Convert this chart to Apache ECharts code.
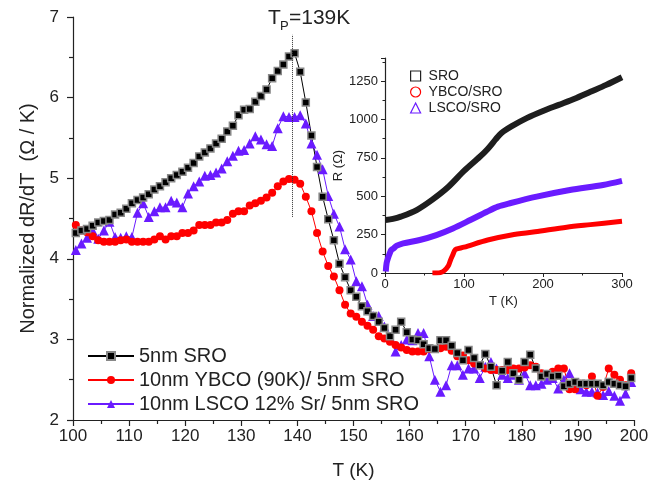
<!DOCTYPE html>
<html>
<head>
<meta charset="utf-8">
<script src="https://cdn.jsdelivr.net/npm/echarts@6/dist/echarts.min.js"></script>
<style>
  html, body { margin: 0; padding: 0; background: #fff; }
  #chart { width: 660px; height: 485px; }
</style>
</head>
<body>
<div id="chart"></div>
<script>
// main panel: temperatures (K)
const temps = [
  100.5, 101.5, 102.5, 103.5, 104.5, 105.5, 106.5, 107.5, 108.5, 109.5,
  110.5, 111.5, 112.5, 113.5, 114.5, 115.5, 116.5, 117.5, 118.5, 119.5,
  120.5, 121.5, 122.5, 123.5, 124.5, 125.5, 126.5, 127.5, 128.5, 129.5,
  130.5, 131.5, 132.5, 133.5, 134.5, 135.5, 136.5, 137.5, 138.5, 139.5,
  140.5, 141.5, 142.5, 143.5, 144.5, 145.5, 146.5, 147.5, 148.5, 149.5,
  150.5, 151.5, 152.5, 153.5, 154.5, 155.5, 156.5, 157.5, 158.5, 159.5,
  160.5, 161.5, 162.5, 163.5, 164.5, 165.5, 166.5, 167.5, 168.5, 169.5,
  170.5, 171.5, 172.5, 173.5, 174.5, 175.5, 176.5, 177.5, 178.5, 179.5,
  180.5, 181.5, 182.5, 183.5, 184.5, 185.5, 186.5, 187.5, 188.5, 189.5,
  190.5, 191.5, 192.5, 193.5, 194.5, 195.5, 196.5, 197.5, 198.5, 199.5
]

// normalized dR/dT
const sro = [
  4.32, 4.35, 4.37, 4.41, 4.45, 4.47, 4.48, 4.55, 4.57, 4.62,
  4.69, 4.73, 4.76, 4.80, 4.86, 4.90, 4.95, 5.00, 5.04, 5.08,
  5.13, 5.19, 5.27, 5.32, 5.37, 5.43, 5.49, 5.58, 5.65, 5.78,
  5.85, 5.86, 5.95, 6.02, 6.10, 6.24, 6.33, 6.41, 6.51, 6.55,
  6.32, 5.94, 5.53, 5.14, 4.77, 4.49, 4.23, 3.94, 3.77, 3.61,
  3.53, 3.41, 3.35, 3.29, 3.22, 3.14, 3.04, 3.12, 3.22, 3.09,
  3.00, 2.99, 2.94, 2.89, 2.88, 2.99, 2.99, 2.92, 2.83, 2.74,
  2.87, 2.77, 2.68, 2.82, 2.66, 2.43, 2.61, 2.72, 2.58, 2.50,
  2.72, 2.81, 2.64, 2.54, 2.57, 2.54, 2.55, 2.42, 2.45, 2.47,
  2.45, 2.45, 2.45, 2.45, 2.43, 2.47, 2.45, 2.43, 2.42, 2.52
]
const ybco = [
  4.42, 4.35, 4.33, 4.28, 4.23, 4.21, 4.21, 4.21, 4.23, 4.24,
  4.21, 4.21, 4.21, 4.21, 4.24, 4.28, 4.24, 4.28, 4.28, 4.32,
  4.32, 4.35, 4.42, 4.42, 4.42, 4.45, 4.45, 4.48, 4.56, 4.59,
  4.59, 4.66, 4.69, 4.72, 4.76, 4.82, 4.90, 4.96, 4.99, 4.98,
  4.93, 4.77, 4.59, 4.32, 4.09, 3.91, 3.78, 3.61, 3.43, 3.32,
  3.28, 3.22, 3.17, 3.12, 3.04, 3.01, 2.97, 2.93, 2.90, 2.87,
  2.85, 2.85, 2.85, 2.88, 2.88, 2.89, 2.91, 2.86, 2.79, 2.80,
  2.74, 2.70, 2.68, 2.64, 2.62, 2.62, 2.62, 2.62, 2.64, 2.64,
  2.65, 2.68, 2.66, 2.58, 2.57, 2.60, 2.64, 2.64, 2.38, 2.38,
  2.45, 2.43, 2.54, 2.30, 2.41, 2.64, 2.56, 2.50, 2.43, 2.58
]
const lsco = [
  4.11, 4.19, 4.26, 4.35, 4.25, 4.35, 4.46, 4.27, 4.26, 4.28,
  4.27, 4.57, 4.69, 4.52, 4.59, 4.64, 4.64, 4.72, 4.70, 4.64,
  4.81, 4.90, 4.96, 5.03, 5.04, 5.07, 5.12, 5.21, 5.28, 5.34,
  5.35, 5.43, 5.52, 5.48, 5.42, 5.40, 5.62, 5.77, 5.76, 5.76,
  5.78, 5.68, 5.43, 5.29, 5.11, 4.78, 4.56, 4.40, 4.12, 3.99,
  3.72, 3.66, 3.43, 3.29, 3.29, 3.16, 3.03, 2.85, 2.93, 3.00,
  2.99, 3.08, 3.08, 2.79, 2.50, 2.35, 2.43, 2.68, 2.68, 2.56,
  2.64, 2.64, 2.52, 2.66, 2.72, 2.64, 2.56, 2.52, 2.56, 2.50,
  2.58, 2.43, 2.43, 2.45, 2.50, 2.52, 2.39, 2.50, 2.58, 2.43,
  2.38, 2.35, 2.35, 2.34, 2.31, 2.36, 2.30, 2.24, 2.33, 2.47
]

// inset: R(T)
const insetSroT = [1, 10, 20, 40, 60, 80, 100, 120, 130, 140, 145, 150, 160, 180, 200, 220, 240, 260, 280, 300]
const insetSroR = [345, 352, 367, 410, 478, 560, 665, 757, 808, 870, 900, 922, 955, 1010, 1055, 1095, 1135, 1180, 1225, 1275]
const insetYbcoT = [60, 65, 70, 75, 80, 83, 86, 88, 90, 100, 130, 160, 190, 230, 260, 300]
const insetYbcoR = [0, 0, 2, 15, 45, 85, 120, 145, 155, 168, 215, 248, 268, 298, 315, 337]
const insetLscoT = [1, 2, 4, 6, 8, 11, 15, 23, 44, 65, 86, 108, 129, 143, 158, 192, 234, 276, 300]
const insetLscoR = [10, 63, 100, 128, 150, 161, 178, 193, 215, 247, 290, 345, 399, 432, 454, 497, 540, 573, 600]

const peakT = 139
const peakLine = [4.52, 6.78]

const FONT = 'Arial, "Liberation Sans", sans-serif'
const BLACK = '#000'
const RED = '#ff0000'
const BLUE = '#6a1bff'
const TXT = '#222'

const pairs = (xs, ys) => xs.map((x, i) => [x, ys[i]])

const chart = echarts.init(document.getElementById('chart'), null, { renderer: 'canvas' })

const axisCommon = {
  axisLine: { show: true, onZero: false, lineStyle: { color: TXT, width: 1.2 } },
  splitLine: { show: false },
}

chart.setOption({
  animation: false,
  backgroundColor: '#fff',
  textStyle: { fontFamily: FONT },
  grid: [
    { left: 73, top: 17, right: 26, bottom: 65, outerBoundsMode: 'none' },
    { left: 385, top: 58, width: 237, height: 215, outerBoundsMode: 'none' },
  ],
  xAxis: [
    {
      ...axisCommon,
      type: 'value', gridIndex: 0, min: 100, max: 200, interval: 10,
      name: 'T (K)', nameLocation: 'middle', nameGap: 41,
      nameTextStyle: { fontSize: 19, color: TXT, fontFamily: FONT },
      axisTick: { show: true, inside: false, length: 6, lineStyle: { color: TXT, width: 1.2 } },
      minorTick: { show: true, splitNumber: 2, length: 4, lineStyle: { color: TXT, width: 1.2 } },
      axisLabel: { fontSize: 17, color: TXT, margin: 8, fontFamily: FONT },
    },
    {
      ...axisCommon,
      type: 'value', gridIndex: 1, min: 0, max: 300, interval: 100,
      name: 'T (K)', nameLocation: 'middle', nameGap: 22,
      nameTextStyle: { fontSize: 13, color: TXT, fontFamily: FONT },
      axisTick: { show: true, inside: false, length: 4, lineStyle: { color: TXT } },
      minorTick: { show: true, splitNumber: 2, length: 2.5, lineStyle: { color: TXT } },
      axisLabel: { fontSize: 13, color: TXT, margin: 5, fontFamily: FONT },
    },
  ],
  yAxis: [
    {
      ...axisCommon,
      type: 'value', gridIndex: 0, min: 2, max: 7, interval: 1,
      name: 'Normalized dR/dT  (\u03A9 / K)', nameLocation: 'middle', nameGap: 34, nameRotate: 90,
      nameTextStyle: { fontSize: 20, color: TXT, fontFamily: FONT },
      axisTick: { show: true, inside: false, length: 6, lineStyle: { color: TXT, width: 1.2 } },
      minorTick: { show: true, splitNumber: 2, length: 4, lineStyle: { color: TXT, width: 1.2 } },
      axisLabel: { fontSize: 17, color: TXT, margin: 14, fontFamily: FONT },
    },
    {
      ...axisCommon,
      type: 'value', gridIndex: 1, min: 0, max: 1400, interval: 250,
      name: 'R (\u03A9)', nameLocation: 'middle', nameGap: 38, nameRotate: 90,
      nameTextStyle: { fontSize: 13, color: TXT, fontFamily: FONT },
      axisTick: { show: true, inside: false, length: 4, lineStyle: { color: TXT } },
      minorTick: { show: true, splitNumber: 2, length: 2.5, lineStyle: { color: TXT } },
      axisLabel: {
        fontSize: 13, color: TXT, margin: 7, fontFamily: FONT, showMaxLabel: false,
        formatter: v => (v % 250 === 0 ? String(v) : ''),
      },
    },
  ],
  legend: [
    {
      orient: 'vertical', left: 82, top: 339, itemWidth: 46, itemHeight: 10, itemGap: 0,
      textStyle: { fontSize: 20, color: TXT, lineHeight: 24, fontFamily: FONT },
      data: ['5nm SRO', '10nm YBCO (90K)/ 5nm SRO', '10nm LSCO 12% Sr/ 5nm SRO'],
      selectedMode: false,
    },
    {
      orient: 'vertical', left: 405, top: 63, itemWidth: 10, itemHeight: 10, itemGap: 0,
      textStyle: { fontSize: 14, color: TXT, lineHeight: 16, padding: [0, 0, 0, 3], fontFamily: FONT },
      selectedMode: false,
      data: [
        { name: 'SRO', icon: 'rect', itemStyle: { color: 'rgba(0,0,0,0)', borderColor: '#222', borderWidth: 1.2 } },
        { name: 'YBCO/SRO', icon: 'circle', itemStyle: { color: 'rgba(0,0,0,0)', borderColor: RED, borderWidth: 1.2 } },
        { name: 'LSCO/SRO', icon: 'triangle', itemStyle: { color: 'rgba(0,0,0,0)', borderColor: BLUE, borderWidth: 1.2 } },
      ],
    },
  ],
  graphic: [
    { type: 'text', left: 268, top: 8, style: { text: 'T', font: '21px ' + FONT, fill: TXT } },
    { type: 'text', left: 280, top: 20, style: { text: 'P', font: '13px ' + FONT, fill: TXT } },
    { type: 'text', left: 289, top: 8, style: { text: '=139K', font: '21px ' + FONT, fill: TXT } },
  ],
  series: [
    {
      name: 'LSCO/SRO', type: 'line', xAxisIndex: 1, yAxisIndex: 1,
      data: pairs(insetLscoT, insetLscoR), showSymbol: false, smooth: 0.3,
      lineStyle: { color: BLUE, width: 6 }, itemStyle: { color: BLUE },
    },
    {
      name: 'YBCO/SRO', type: 'line', xAxisIndex: 1, yAxisIndex: 1,
      data: pairs(insetYbcoT, insetYbcoR), showSymbol: false, smooth: 0.3,
      lineStyle: { color: RED, width: 5 }, itemStyle: { color: RED },
    },
    {
      name: 'SRO', type: 'line', xAxisIndex: 1, yAxisIndex: 1,
      data: pairs(insetSroT, insetSroR), showSymbol: false, smooth: 0.3,
      lineStyle: { color: '#1e1e1e', width: 6 }, itemStyle: { color: '#1e1e1e' },
    },
    {
      name: '10nm LSCO 12% Sr/ 5nm SRO', type: 'line', xAxisIndex: 0, yAxisIndex: 0,
      data: pairs(temps, lsco), symbol: 'triangle', symbolSize: 10,
      lineStyle: { color: BLUE, width: 1 }, itemStyle: { color: BLUE },
    },
    {
      name: '10nm YBCO (90K)/ 5nm SRO', type: 'line', xAxisIndex: 0, yAxisIndex: 0,
      data: pairs(temps, ybco), symbol: 'circle', symbolSize: 8,
      lineStyle: { color: RED, width: 1 }, itemStyle: { color: RED },
    },
    {
      name: '5nm SRO', type: 'line', xAxisIndex: 0, yAxisIndex: 0,
      data: pairs(temps, sro), symbol: 'rect', symbolSize: 7,
      lineStyle: { color: BLACK, width: 1 },
      itemStyle: { color: BLACK, borderColor: '#888', borderWidth: 1.5 },
      markLine: {
        silent: true, symbol: 'none', label: { show: false },
        lineStyle: { color: '#333', type: 'dotted', width: 1 },
        data: [[{ coord: [peakT, peakLine[0]] }, { coord: [peakT, peakLine[1]] }]],
      },
    },
  ],
})
</script>
</body>
</html>
